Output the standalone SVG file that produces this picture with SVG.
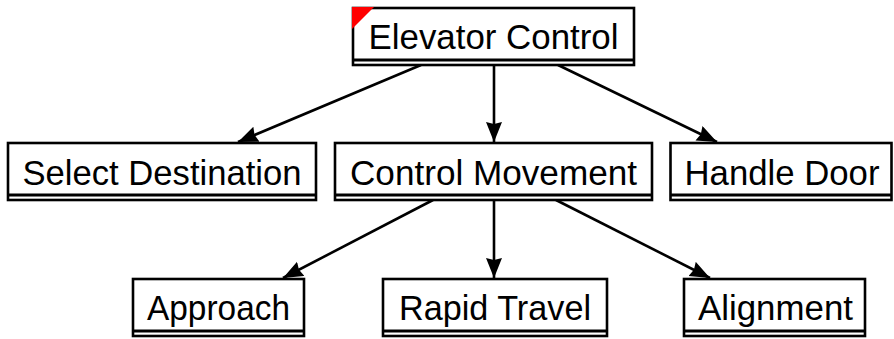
<svg xmlns="http://www.w3.org/2000/svg" width="894" height="339" viewBox="0 0 894 339">
<style>
.box{fill:#fff;stroke:#000;stroke-width:2.6}
.sep{stroke:#000;stroke-width:2.8}
.lbl{font-family:"Liberation Sans",Arial,sans-serif;font-size:35px;fill:#000;text-anchor:middle}
.edge{stroke:#000;stroke-width:2.6;fill:none;marker-end:url(#arr)}
</style>
<defs>
<marker id="arr" markerUnits="userSpaceOnUse" markerWidth="22" markerHeight="18" refX="20" refY="8" orient="auto" viewBox="0 0 22 18">
<path d="M0,0 L20,8 L0,16 L2,8 Z" fill="#000"/>
</marker>
</defs>
<rect width="894" height="339" fill="#fff"/>
<g id="connectors">
<line class="edge" x1="421" y1="65" x2="238" y2="142"/>
<line class="edge" x1="494" y1="65" x2="494" y2="142"/>
<line class="edge" x1="558" y1="65" x2="717" y2="142"/>
<line class="edge" x1="433" y1="200" x2="283" y2="278"/>
<line class="edge" x1="494" y1="200" x2="494" y2="278"/>
<line class="edge" x1="556" y1="200" x2="710" y2="278"/>
</g>
<g id="elevator-control">
<rect class="box" x="353" y="8" width="281" height="57"/>
<line class="sep" x1="353" y1="60" x2="634" y2="60"/>
<polygon points="352,7 374,7 352,29" fill="#f00"/>
<text class="lbl" x="493.5" y="49" textLength="250" lengthAdjust="spacingAndGlyphs">Elevator Control</text>
</g>
<g id="select-destination">
<rect class="box" x="8" y="143" width="308" height="57"/>
<line class="sep" x1="8" y1="195" x2="316" y2="195"/>
<text class="lbl" x="162" y="185" textLength="279" lengthAdjust="spacingAndGlyphs">Select Destination</text>
</g>
<g id="control-movement">
<rect class="box" x="335" y="143" width="317" height="57"/>
<line class="sep" x1="335" y1="195" x2="652" y2="195"/>
<text class="lbl" x="493.5" y="185" textLength="287" lengthAdjust="spacingAndGlyphs">Control Movement</text>
</g>
<g id="handle-door">
<rect class="box" x="670.5" y="143" width="221" height="57"/>
<line class="sep" x1="670.5" y1="195" x2="891.5" y2="195"/>
<text class="lbl" x="782" y="185" textLength="195" lengthAdjust="spacingAndGlyphs">Handle Door</text>
</g>
<g id="approach">
<rect class="box" x="133" y="279" width="171" height="57"/>
<line class="sep" x1="133" y1="331" x2="304" y2="331"/>
<text class="lbl" x="218.5" y="320" textLength="143" lengthAdjust="spacingAndGlyphs">Approach</text>
</g>
<g id="rapid-travel">
<rect class="box" x="383" y="279" width="224" height="57"/>
<line class="sep" x1="383" y1="331" x2="607" y2="331"/>
<text class="lbl" x="495" y="320" textLength="192" lengthAdjust="spacingAndGlyphs">Rapid Travel</text>
</g>
<g id="alignment">
<rect class="box" x="684" y="279" width="181" height="57"/>
<line class="sep" x1="684" y1="331" x2="865" y2="331"/>
<text class="lbl" x="775.5" y="320" textLength="155" lengthAdjust="spacingAndGlyphs">Alignment</text>
</g>
</svg>
